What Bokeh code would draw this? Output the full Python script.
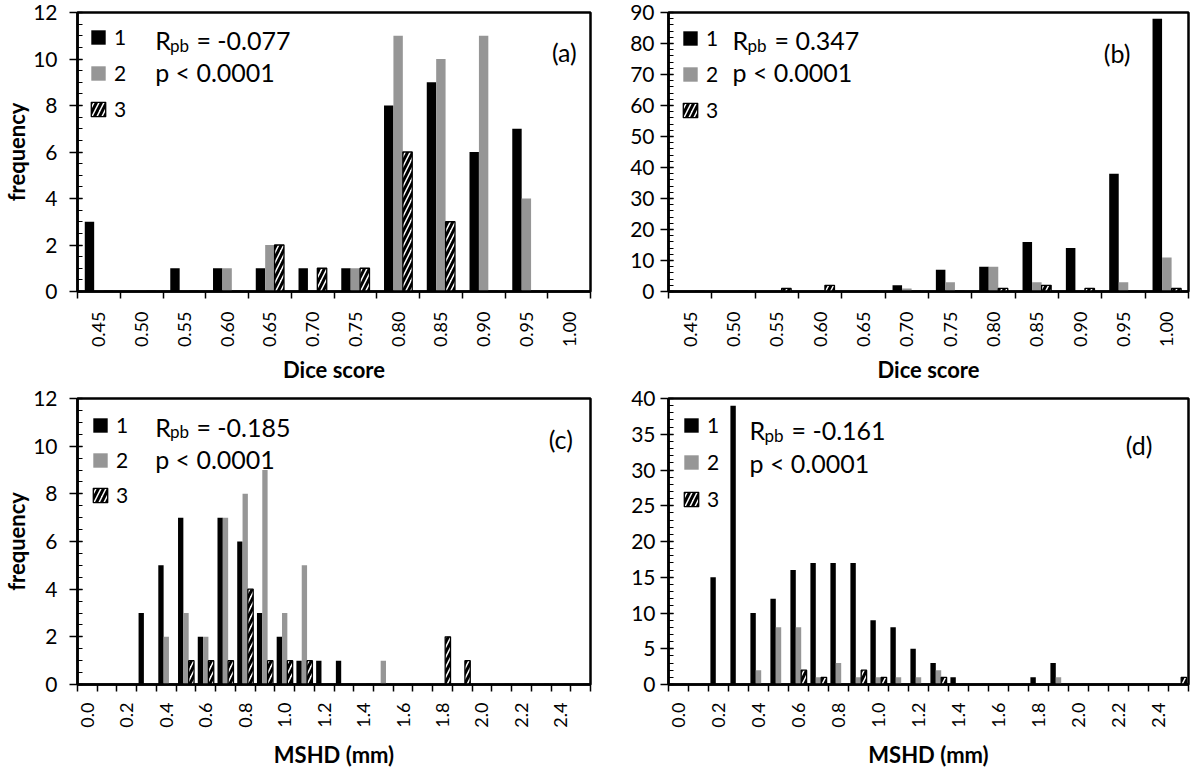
import math
from bokeh.plotting import figure
from bokeh.models import (Range1d, FixedTicker, SingleIntervalTicker, Label,
                          Legend, LegendItem, ColumnDataSource)
from bokeh.layouts import row, column
from bokeh.transform import dodge
from bokeh.core.properties import value
from bokeh.embed import file_html
from bokeh.resources import INLINE

FONT = "Lato"
GRAY = "#969696"

# ---------------- data ----------------
dice_labels = ["0.45", "0.50", "0.55", "0.60", "0.65", "0.70",
               "0.75", "0.80", "0.85", "0.90", "0.95", "1.00"]
a_s1 = [3, 0, 1, 1, 1, 1, 1, 8, 9, 6, 7, 0]
a_s2 = [0, 0, 0, 1, 2, 0, 1, 11, 10, 11, 4, 0]
a_s3 = [0, 0, 0, 0, 2, 1, 1, 6, 3, 0, 0, 0]

b_s1 = [0, 0, 0, 0, 0, 2, 7, 8, 16, 14, 38, 88]
b_s2 = [0, 0, 0, 0, 0, 1, 3, 8, 3, 0, 3, 11]
b_s3 = [0, 0, 1, 2, 0, 0, 0, 1, 2, 1, 0, 1]

mshd_labels = ["0.0", "0.1", "0.2", "0.3", "0.4", "0.5", "0.6", "0.7", "0.8",
               "0.9", "1.0", "1.1", "1.2", "1.3", "1.4", "1.5", "1.6", "1.7",
               "1.8", "1.9", "2.0", "2.1", "2.2", "2.3", "2.4", "2.5"]
c_s1 = [0, 0, 0, 3, 5, 7, 2, 7, 6, 3, 2, 1, 1, 1, 0, 0, 0, 0, 0, 0, 0, 0, 0, 0, 0, 0]
c_s2 = [0, 0, 0, 0, 2, 3, 2, 7, 8, 9, 3, 5, 0, 0, 0, 1, 0, 0, 0, 0, 0, 0, 0, 0, 0, 0]
c_s3 = [0, 0, 0, 0, 0, 1, 1, 1, 4, 1, 1, 1, 0, 0, 0, 0, 0, 0, 2, 1, 0, 0, 0, 0, 0, 0]

d_s1 = [0, 0, 15, 39, 10, 12, 16, 17, 17, 17, 9, 8, 5, 3, 1, 0, 0, 0, 1, 3, 0, 0, 0, 0, 0, 0]
d_s2 = [0, 0, 0, 0, 2, 8, 8, 1, 3, 1, 1, 1, 1, 2, 0, 0, 0, 0, 0, 1, 0, 0, 0, 0, 0, 0]
d_s3 = [0, 0, 0, 0, 0, 0, 2, 1, 0, 2, 1, 0, 0, 1, 0, 0, 0, 0, 0, 0, 0, 0, 0, 0, 0, 1]

series_names = ["1", "2", "3"]
rpb_values = ["-0.077", "0.347", "-0.185", "-0.161"]
p_text = "p < 0.0001"
tags = ["(a)", "(b)", "(c)", "(d)"]


def make_panel(labels, s1, s2, s3, ymax, yinterval, yminor, label_every,
               xtitle, ytitle, fig_w, fig_h, border, bar_w, rpb, tag,
               ann, leg, ylab_standoff, xlab_standoff, xtitle_standoff):
    left, right, top, bottom = border
    fw = fig_w - left - right
    fh = fig_h - top - bottom
    n = len(labels)
    src = ColumnDataSource(dict(idx=list(range(n)), s1=s1, s2=s2, s3=s3))
    p = figure(width=fig_w, height=fig_h, x_range=Range1d(-0.5, n - 0.5),
               y_range=Range1d(0, ymax), output_backend="svg",
               toolbar_location=None, tools="",
               min_border_left=left, min_border_right=right,
               min_border_top=top, min_border_bottom=bottom)
    p.xgrid.visible = False
    p.ygrid.visible = False
    p.outline_line_color = "black"
    p.outline_line_width = 2.5
    p.background_fill_color = "white"
    p.border_fill_color = "white"

    r1 = p.vbar(x=dodge("idx", -bar_w), top="s1", width=bar_w, source=src,
                fill_color="black", line_color=None)
    r2 = p.vbar(x="idx", top="s2", width=bar_w, source=src,
                fill_color=GRAY, line_color=None)
    r3 = p.vbar(x=dodge("idx", bar_w), top="s3", width=bar_w, source=src,
                fill_color="white", line_color="black", line_width=1.3,
                hatch_pattern="/", hatch_color="black", hatch_weight=3,
                hatch_scale=10)

    # x axis: labels at category centres, tick marks at category boundaries
    xa = p.xaxis[0]
    xa.ticker = FixedTicker(ticks=list(range(0, n, label_every)),
                            minor_ticks=[i - 0.5 for i in range(n + 1)])
    xa.major_label_overrides = {i: labels[i] for i in range(0, n, label_every)}
    xa.major_label_orientation = math.pi / 2
    xa.major_tick_in = 0
    xa.major_tick_out = 0
    xa.minor_tick_in = 0
    xa.minor_tick_out = 7
    xa.minor_tick_line_color = "black"
    xa.minor_tick_line_width = 1.5
    xa.axis_line_color = "black"
    xa.axis_line_width = 2.5
    xa.major_label_text_font = FONT
    xa.major_label_text_font_size = "18px"
    xa.major_label_text_color = "black"
    xa.major_label_standoff = xlab_standoff
    xa.axis_label = xtitle
    xa.axis_label_text_font = FONT
    xa.axis_label_text_font_style = "bold"
    xa.axis_label_text_font_size = "22px"
    xa.axis_label_text_color = "black"
    xa.axis_label_standoff = xtitle_standoff

    ya = p.yaxis[0]
    ya.ticker = SingleIntervalTicker(interval=yinterval, num_minor_ticks=yminor)
    ya.major_tick_in = 5
    ya.major_tick_out = 8
    ya.minor_tick_in = 5
    ya.minor_tick_out = 0
    ya.major_tick_line_color = "black"
    ya.major_tick_line_width = 1.5
    ya.minor_tick_line_color = "black"
    ya.minor_tick_line_width = 1.2
    ya.axis_line_color = "black"
    ya.axis_line_width = 2.5
    ya.major_label_text_font = FONT
    ya.major_label_text_font_size = "21px"
    ya.major_label_text_color = "black"
    ya.major_label_standoff = ylab_standoff
    if ytitle:
        ya.axis_label = ytitle
        ya.axis_label_text_font = FONT
        ya.axis_label_text_font_style = "bold"
        ya.axis_label_text_font_size = "22px"
        ya.axis_label_text_color = "black"
        ya.axis_label_standoff = 0

    # legend (border kept but invisible so that padding applies)
    legend = Legend(items=[LegendItem(label=value(series_names[0]), renderers=[r1]),
                           LegendItem(label=value(series_names[1]), renderers=[r2]),
                           LegendItem(label=value(series_names[2]), renderers=[r3])],
                    location="top_left", margin=0, padding=leg[0],
                    spacing=leg[1], glyph_width=18, glyph_height=18,
                    label_standoff=7, label_text_font=FONT,
                    label_text_font_size="21px", label_text_color="black",
                    border_line_color="white", border_line_alpha=0,
                    background_fill_alpha=0)
    p.add_layout(legend)

    # annotation text, placed by pixel offsets inside the frame
    def fx(px):
        return -0.5 + px / fw * n

    def fy(py):
        return ymax * (1 - py / fh)

    rx, ry, py2, tag_x, tag_y = ann
    common = dict(text_font=FONT, text_color="black", text_baseline="alphabetic")
    p.add_layout(Label(x=fx(rx), y=fy(ry), text="R", text_font_size="25px", **common))
    p.add_layout(Label(x=fx(rx + 15), y=fy(ry + 5.5), text="pb", text_font_size="17px", **common))
    p.add_layout(Label(x=fx(rx + 42), y=fy(ry), text="= " + rpb, text_font_size="25px", **common))
    p.add_layout(Label(x=fx(rx), y=fy(py2), text=p_text, text_font_size="25px", **common))
    p.add_layout(Label(x=fx(tag_x), y=fy(tag_y), text=tag, text_font_size="25px",
                       text_align="right", **common))
    return p


pa = make_panel(dice_labels, a_s1, a_s2, a_s3, 12, 2, 4, 1, "Dice score", "frequency",
                600, 386, (68, 10, 12, 76), 0.22, rpb_values[0], tags[0],
                (79, 29.5, 64, 508, 42), (12, 11), 12, 13, 6)
pb = make_panel(dice_labels, b_s1, b_s2, b_s3, 90, 10, 5, 1, "Dice score", None,
                592, 386, (68, 4, 12, 76), 0.22, rpb_values[1], tags[1],
                (64, 29.5, 64, 462, 43.5), (13, 11), 6, 13, 6)
pc = make_panel(mshd_labels, c_s1, c_s2, c_s3, 12, 2, 4, 2, "MSHD (mm)", "frequency",
                600, 384, (68, 10, 12, 71), 0.27, rpb_values[2], tags[2],
                (79, 29.5, 63.5, 504, 43), (14, 10), 12, 11, 10)
pd = make_panel(mshd_labels, d_s1, d_s2, d_s3, 40, 5, 5, 2, "MSHD (mm)", None,
                592, 384, (68, 4, 12, 71), 0.27, rpb_values[3], tags[3],
                (81, 33, 67.5, 484, 48.5), (14, 12), 5, 11, 10)

layout = column(row(pa, pb), row(pc, pd))
open("out.html", "w").write(file_html(layout, INLINE))
